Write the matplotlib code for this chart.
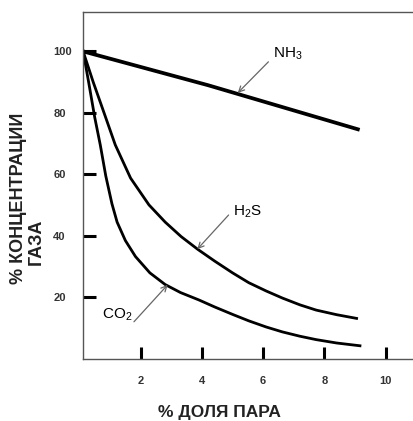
import matplotlib
matplotlib.use('Agg')
import matplotlib.pyplot as plt

nh3_x = [0.12, 4.2, 9.15]
nh3_y = [100, 89, 74.5]

h2s_x = [0.12, 0.45, 0.79, 1.17, 1.67, 2.27, 2.8, 3.32, 3.87, 4.42, 5.0, 5.53,
         6.1, 6.63, 7.2, 7.73, 8.4, 9.05]
h2s_y = [100, 90, 80.4, 69.6, 58.8, 50.1, 44.5, 39.8, 35.6, 31.8, 28.0, 24.8,
         22.1, 19.8, 17.6, 15.9, 14.4, 13.2]

co2_x = [0.12, 0.3, 0.5, 0.68, 0.86, 1.06, 1.23, 1.5, 1.83, 2.3, 2.8, 3.3, 3.9,
         4.42, 5.0, 5.53, 6.1, 6.63, 7.2, 7.73, 8.4, 9.16]
co2_y = [100, 90, 78.5, 69.6, 59.5, 50.5, 44.5, 38.5, 33.3, 28, 24.2, 21.6, 19.2,
         16.9, 14.5, 12.4, 10.4, 8.8, 7.4, 6.3, 5.2, 4.3]

xticks = [2, 4, 6, 8, 10]
yticks = [20, 40, 60, 80, 100]

plt.rcParams['font.family'] = ['Liberation Sans', 'DejaVu Sans']

W, H = 414, 421
fig = plt.figure(figsize=(W / 100, H / 100), dpi=100)
ax = fig.add_axes([83 / W, (H - 359) / H, (W - 83) / W + 0.01, (359 - 12) / H])

ax.plot(nh3_x, nh3_y, color='black', lw=2.7, solid_capstyle='butt')
ax.plot(h2s_x, h2s_y, color='black', lw=2.0, solid_joinstyle='round')
ax.plot(co2_x, co2_y, color='black', lw=2.0, solid_joinstyle='round')

ax.set_xlim(0.116, 11.06)
ax.set_ylim(0, 112.8)
ax.set_xticks(xticks)
ax.set_yticks(yticks)
ax.set_xticklabels([str(t) for t in xticks], fontsize=8, fontweight='bold', color='#333333')
ax.set_yticklabels([str(t) for t in yticks], fontsize=8, fontweight='bold', color='#333333')
ax.tick_params(axis='both', direction='in', length=9, width=2.2, color='black')
ax.tick_params(axis='x', pad=12)
ax.tick_params(axis='y', pad=21.5)
for lab in ax.get_yticklabels():
    lab.set_horizontalalignment('left')

ax.spines['right'].set_visible(False)
for s in ['left', 'top', 'bottom']:
    ax.spines[s].set_linewidth(1.0)
    ax.spines[s].set_color('#555555')

# labels with thin arrows
arr = dict(arrowstyle='->', color='#666666', lw=0.9, shrinkA=0, shrinkB=0)
ax.annotate('', xy=(5.17, 86.5), xytext=(6.17, 96.6), arrowprops=arr)
ax.annotate('', xy=(3.85, 35.7), xytext=(4.87, 46.8), arrowprops=arr)
ax.annotate('', xy=(2.88, 24.1), xytext=(1.78, 12.1), arrowprops=arr)
ax.text(6.33, 99.2, 'NH$_\\mathregular{3}$', fontsize=11, ha='left', va='center')
ax.text(5.02, 47.8, 'H$_\\mathregular{2}$S', fontsize=11, ha='left', va='center')
ax.text(1.74, 14.3, 'CO$_\\mathregular{2}$', fontsize=11, ha='right', va='center')

fig.text(219 / W, 1 - 413 / H, '% ДОЛЯ ПАРА', fontsize=12.5, fontweight='bold',
         ha='center', va='center', color='#222222')
fig.text(19 / W, 1 - 198 / H, '% КОНЦЕНТРАЦИИ', fontsize=13, fontweight='bold',
         rotation=90, ha='center', va='center', color='#222222')
fig.text(36 / W, 1 - 242 / H, 'ГАЗА', fontsize=13, fontweight='bold',
         rotation=90, ha='center', va='center', color='#222222')

fig.savefig('out.png', dpi=100)
